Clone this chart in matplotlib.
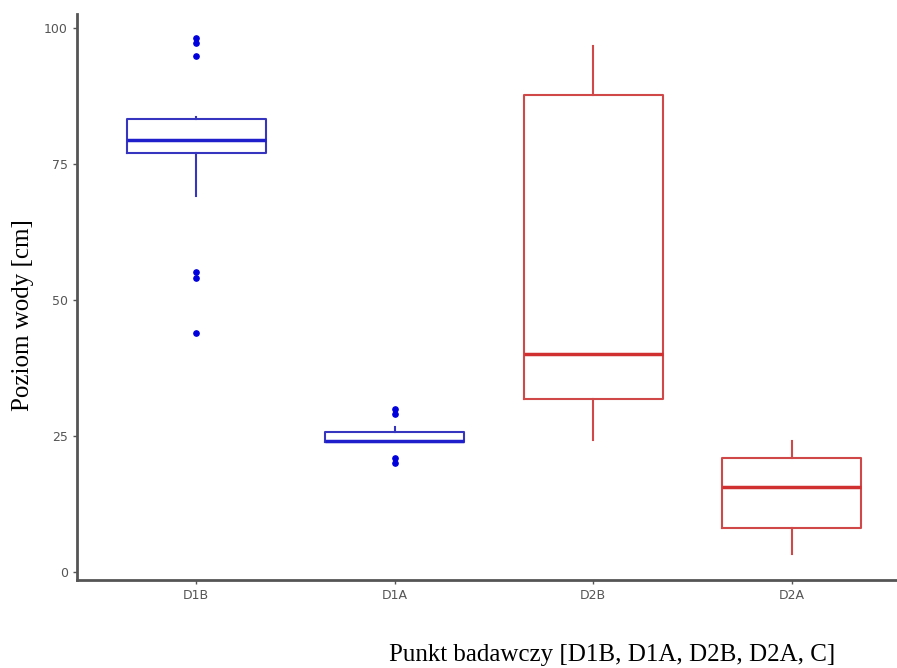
import matplotlib.pyplot as plt

labels = ["D1B", "D1A", "D2B", "D2A"]
q1 = [77.1, 23.8, 31.7, 8.1]
med = [79.4, 24.0, 40.1, 15.6]
q3 = [83.2, 25.8, 87.7, 21.0]
whislo = [69.2, 23.8, 24.3, 3.2]
whishi = [83.6, 26.7, 96.8, 24.0]
fliers = [
    [98.1, 97.3, 94.9, 55.1, 54.0, 44.0],
    [29.9, 29.0, 21.0, 20.0],
    [],
    [],
]
colors = ["#3535C0", "#3535C0", "#D04848", "#D04848"]
med_colors = ["#1F1FCC", "#1F1FCC", "#D03030", "#D03030"]

stats = []
for i in range(len(labels)):
    stats.append(dict(label=labels[i], q1=q1[i], med=med[i], q3=q3[i],
                      whislo=whislo[i], whishi=whishi[i], fliers=fliers[i]))

fig = plt.figure(figsize=(8.97, 6.68), dpi=100)
ax = fig.add_axes([77 / 897, 1 - 580 / 668, (911 - 77) / 897, (580 - 14) / 668])

for i, s in enumerate(stats):
    ax.bxp([s], positions=[i + 1], widths=0.7, showcaps=False, patch_artist=False,
           boxprops=dict(color=colors[i], linewidth=1.5),
           whiskerprops=dict(color=colors[i], linewidth=1.5),
           medianprops=dict(color=med_colors[i], linewidth=2.5),
           flierprops=dict(marker="o", markerfacecolor="#0000DD", markeredgecolor="#0000DD",
                           markersize=3.8))

ax.set_xlim(0.4, 4.6)
ax.set_ylim(-1.5, 102.6)
ax.set_yticks([0, 25, 50, 75, 100])
ax.set_xticks([1, 2, 3, 4])
ax.set_xticklabels(labels)

for sp in ["top", "right"]:
    ax.spines[sp].set_visible(False)
for sp in ["left", "bottom"]:
    ax.spines[sp].set_color("#555555")
    ax.spines[sp].set_linewidth(2)
ax.tick_params(colors="#555555", labelcolor="#555555", labelsize=9, length=3, width=1)
for t in ax.get_xticklabels() + ax.get_yticklabels():
    t.set_family("DejaVu Sans")

fig.text(23 / 897, 1 - 315 / 668, "Poziom wody [cm]", rotation=90, ha="center", va="center",
         family="Liberation Serif", fontsize=18)
fig.text(612 / 897, 1 - 655 / 668, "Punkt badawczy [D1B, D1A, D2B, D2A, C]", ha="center",
         va="center", family="Liberation Serif", fontsize=18)

fig.savefig("out.png", dpi=100)
